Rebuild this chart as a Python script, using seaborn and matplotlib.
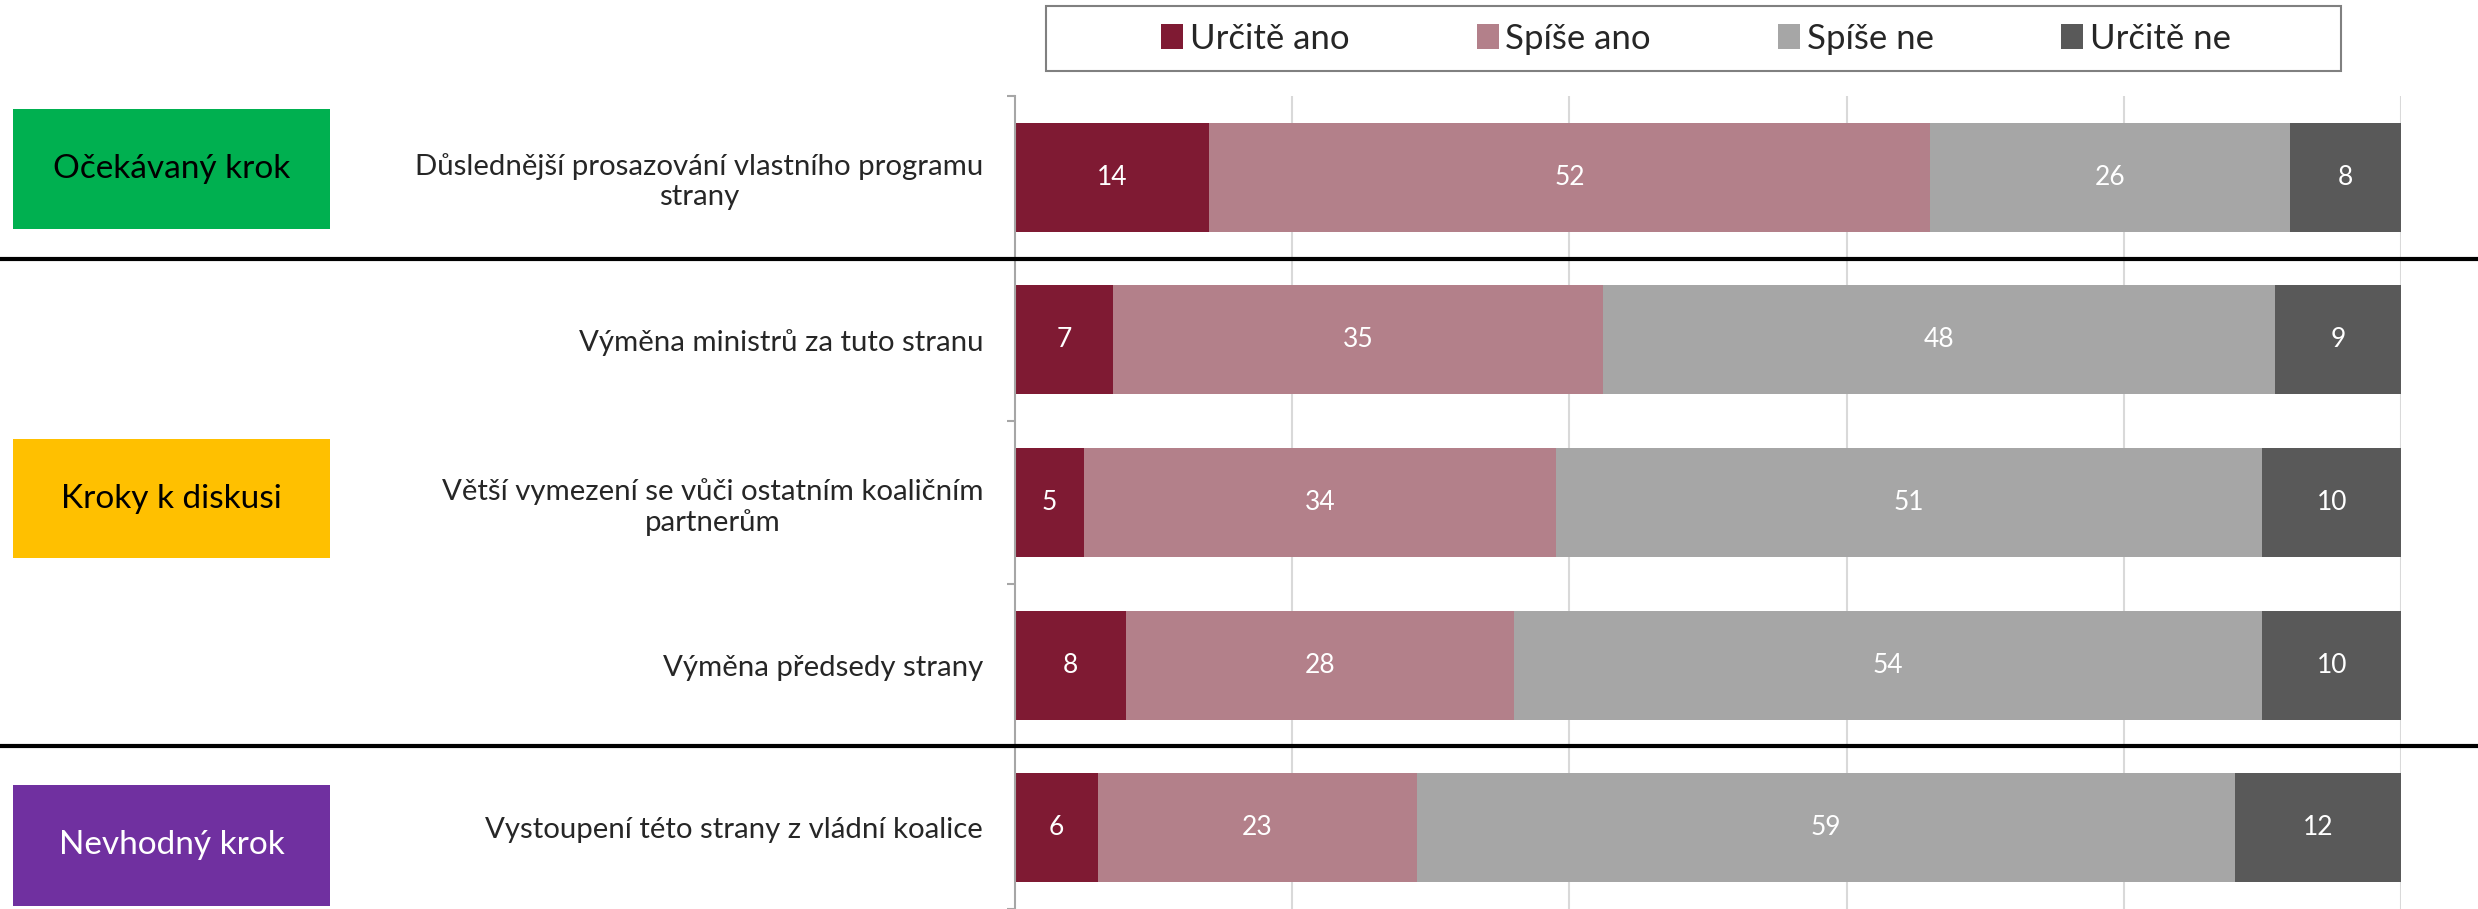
import matplotlib
matplotlib.use("Agg")
import matplotlib.pyplot as plt
import numpy as np
import pandas as pd
import seaborn as sns
from matplotlib.patches import Patch, Rectangle
from matplotlib.lines import Line2D
from matplotlib.transforms import blended_transform_factory

ITEMS = [
    "Důslednější prosazování vlastního programu\nstrany",
    "Výměna ministrů za tuto stranu",
    "Větší vymezení se vůči ostatním koaličním\npartnerům",
    "Výměna předsedy strany",
    "Vystoupení této strany z vládní koalice",
]
LEVELS = ["Určitě ano", "Spíše ano", "Spíše ne", "Určitě ne"]
URCITE_ANO = [14, 7, 5, 8, 6]
SPISE_ANO = [52, 35, 34, 28, 23]
SPISE_NE = [26, 48, 51, 54, 59]
URCITE_NE = [8, 9, 10, 10, 12]

GROUPS = ["Očekávaný krok", "Kroky k diskusi", "Nevhodný krok"]

COLORS = ["#7F1A33", "#B3808A", "#A6A6A6", "#595959"]
GROUP_COLORS = ["#00B050", "#FFC000", "#7030A0"]
GROUP_TEXT = ["black", "black", "white"]

FONT = ["Lato", "DejaVu Sans"]

sns.set_theme(style="white")
plt.rcParams["font.family"] = FONT

W, H = 2478, 909
fig = plt.figure(figsize=(W / 100, H / 100), dpi=100)
ax = fig.add_axes([1015 / W, 0, (2401 - 1015) / W, (909 - 96) / H])

vals = np.array([URCITE_ANO, SPISE_ANO, SPISE_NE, URCITE_NE], dtype=float).T
shares = vals / vals.sum(axis=1, keepdims=True) * 100  # 100 % stacked
cum = shares.cumsum(axis=1)

df = pd.DataFrame(cum, columns=LEVELS)
df["item"] = ITEMS

# draw cumulative bars from the longest one, so shorter ones sit on top
for k in reversed(range(len(LEVELS))):
    sns.barplot(data=df, x=LEVELS[k], y="item", orient="h", color=COLORS[k],
                saturation=1, width=0.67, linewidth=0, ax=ax)

for i in range(len(ITEMS)):
    for k in range(len(LEVELS)):
        ax.text(cum[i, k] - shares[i, k] / 2, i, f"{vals[i, k]:.0f}",
                ha="center", va="center", color="white", fontsize=19)

ax.set_xlim(0, 100)
ax.set_ylim(len(ITEMS) - 0.5, -0.5)
ax.set_xlabel("")
ax.set_ylabel("")
ax.set_xticks([20, 40, 60, 80, 100])
ax.set_xticklabels([])
ax.xaxis.grid(True, color="#D9D9D9", lw=1.5)
ax.set_axisbelow(True)
for s in ["top", "right", "bottom"]:
    ax.spines[s].set_visible(False)
ax.spines["left"].set_color("#A6A6A6")
ax.spines["left"].set_linewidth(1.5)
ax.tick_params(axis="x", length=0)
ax.tick_params(axis="y", which="major", length=0, pad=23, labelsize=21.2)
ax.set_yticks(np.arange(-0.5, len(ITEMS)), minor=True)
ax.tick_params(axis="y", which="minor", length=6, width=1.5, color="#A6A6A6",
               direction="out", left=True)
for t in ax.get_yticklabels():
    t.set_multialignment("center")

# separator lines between the groups
trans = blended_transform_factory(fig.transFigure, ax.transData)
for yy in [0.5, 3.5]:
    ax.add_line(Line2D([0, 1], [yy, yy], transform=trans, color="black",
                       lw=3, clip_on=False, zorder=10))

# coloured group boxes on the left
boxes = [(109, 229), (439, 558), (785, 906)]
for (top, bot), name, c, tc in zip(boxes, GROUPS, GROUP_COLORS, GROUP_TEXT):
    fig.add_artist(Rectangle((13 / W, 1 - bot / H), 317 / W, (bot - top) / H,
                             transform=fig.transFigure, facecolor=c, edgecolor="none"))
    fig.text((13 + 330) / 2 / W, 1 - (top + bot) / 2 / H, name, ha="center",
             va="center", fontsize=24, color=tc)

# legend
fig.add_artist(Rectangle((1046 / W, 1 - 71 / H), (2341 - 1046) / W, 65 / H,
                         transform=fig.transFigure, facecolor="none",
                         edgecolor="#808080", lw=1.5))
handles = [Patch(facecolor=c, edgecolor="none") for c in COLORS]
fig.legend(handles, LEVELS, loc="center", bbox_to_anchor=(1696 / W, 1 - 39 / H),
           ncol=4, frameon=False, fontsize=25, handlelength=0.63, handleheight=0.72,
           handletextpad=0.2, columnspacing=3.66)

fig.savefig("out.png", dpi=100)
